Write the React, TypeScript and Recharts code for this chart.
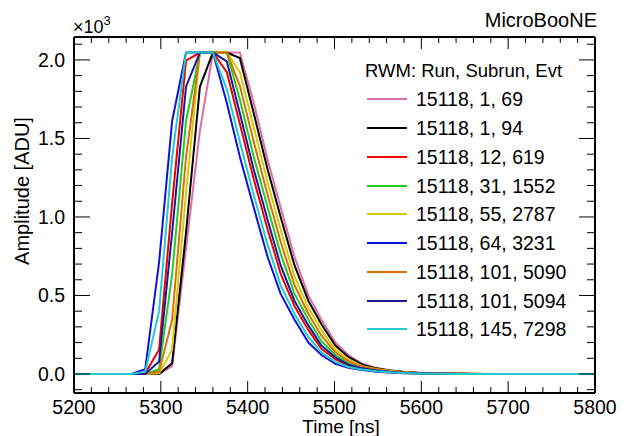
import React from 'react';
import { LineChart, Line, XAxis, YAxis, Legend } from 'recharts';

const FONT = '"Liberation Sans", Arial, Helvetica, sans-serif';

// sample times of the RWM digitizer (ns)
const time = [
  5188, 5204, 5219, 5235, 5251, 5266, 5282, 5298, 5313, 5329, 5345, 5360, 5376, 5391,
  5407, 5423, 5438, 5454, 5470, 5485, 5501, 5516, 5532, 5548, 5563, 5579, 5595, 5610,
  5626, 5641, 5657, 5673, 5688, 5704, 5720, 5735, 5751, 5766, 5782, 5798, 5813,
];

// amplitudes in ADU, one array per event
const ev69 = [0, 0, 0, 0, 0, 0, 0, 0, 50, 800, 1550, 2047, 2047, 2047, 1726, 1364, 1060, 745, 499, 345, 200, 121, 65, 39, 25, 15, 9, 5, 3, 2, 1, 0, 0, 0, 0, 0, 0, 0, 0, 0, 0];
const ev94 = [0, 0, 0, 0, 0, 0, 0, 0, 68, 900, 1830, 2047, 2047, 2012, 1660, 1302, 1000, 691, 465, 317, 181, 109, 59, 36, 23, 14, 8, 5, 3, 2, 1, 0, 0, 0, 0, 0, 0, 0, 0, 0, 0];
const ev619 = [0, 0, 0, 0, 0, 0, 4, 155, 1088, 1995, 2047, 2047, 1922, 1594, 1240, 920, 638, 431, 279, 161, 94, 52, 33, 20, 13, 7, 4, 3, 2, 1, 0, 0, 0, 0, 0, 0, 0, 0, 0, 0, 0];
const ev1552 = [0, 0, 0, 0, 0, 0, 0, 30, 635, 1611, 2047, 2047, 2047, 1748, 1384, 1060, 765, 510, 345, 209, 121, 68, 40, 25, 16, 9, 5, 3, 2, 1, 0, 0, 0, 0, 0, 0, 0, 0, 0, 0, 0];
const ev2787 = [0, 0, 0, 0, 0, 0, 0, 5, 155, 1150, 2047, 2047, 2047, 1922, 1572, 1220, 920, 620, 420, 279, 155, 94, 50, 32, 20, 12, 7, 4, 3, 2, 1, 0, 0, 0, 0, 0, 0, 0, 0, 0, 0];
const ev3231 = [0, 0, 0, 0, 0, 0, 30, 713, 1611, 2047, 2047, 2047, 1726, 1384, 1060, 745, 510, 345, 200, 121, 65, 40, 25, 15, 9, 5, 3, 2, 1, 0, 0, 0, 0, 0, 0, 0, 0, 0, 0, 0, 0];
const ev5090 = [0, 0, 0, 0, 0, 0, 0, 15, 345, 1380, 2047, 2047, 2047, 1835, 1479, 1140, 842, 565, 382, 244, 138, 81, 45, 28, 18, 11, 6, 4, 2, 1, 0, 0, 0, 0, 0, 0, 0, 0, 0, 0, 0];
const ev5094 = [0, 0, 0, 0, 0, 0, 0, 80, 900, 1830, 2047, 2047, 1990, 1660, 1302, 980, 691, 465, 308, 181, 106, 59, 36, 22, 14, 8, 5, 3, 2, 1, 0, 0, 0, 0, 0, 0, 0, 0, 0, 0, 0];
const ev7298 = [0, 0, 0, 0, 0, 0, 15, 400, 1380, 2047, 2047, 2047, 1813, 1479, 1140, 822, 565, 382, 235, 138, 77, 45, 28, 17, 11, 6, 3, 2, 1, 0, 0, 0, 0, 0, 0, 0, 0, 0, 0, 0, 0];

const series = [
  { key: 'ev69', name: '15118, 1, 69', color: '#dc6ea8', values: ev69 },
  { key: 'ev94', name: '15118, 1, 94', color: '#000000', values: ev94 },
  { key: 'ev619', name: '15118, 12, 619', color: '#ee0000', values: ev619 },
  { key: 'ev1552', name: '15118, 31, 1552', color: '#22cc22', values: ev1552 },
  { key: 'ev2787', name: '15118, 55, 2787', color: '#d4cc00', values: ev2787 },
  { key: 'ev3231', name: '15118, 64, 3231', color: '#1111dd', values: ev3231 },
  { key: 'ev5090', name: '15118, 101, 5090', color: '#d8700a', values: ev5090 },
  { key: 'ev5094', name: '15118, 101, 5094', color: '#1a1a99', values: ev5094 },
  { key: 'ev7298', name: '15118, 145, 7298', color: '#22cccc', values: ev7298 },
];

const xTicks = [
  5200, 5220, 5240, 5260, 5280, 5300, 5320, 5340, 5360, 5380, 5400, 5420, 5440, 5460, 5480,
  5500, 5520, 5540, 5560, 5580, 5600, 5620, 5640, 5660, 5680, 5700, 5720, 5740, 5760, 5780, 5800,
];
const yTicks = [
  -100, 0, 100, 200, 300, 400, 500, 600, 700, 800, 900, 1000, 1100, 1200, 1300, 1400, 1500,
  1600, 1700, 1800, 1900, 2000, 2100,
];

const data = time.map((t, i) => {
  const row: any = { t };
  series.forEach(s => { row[s.key] = s.values[i]; });
  return row;
});

const BottomTick = (props: any) => {
  const { x, y, payload } = props;
  const major = payload.value % 100 === 0;
  return (
    <g>
      <line x1={x} y1={y} x2={x} y2={y - (major ? 12 : 6)} stroke="#000" strokeWidth={1} />
      {major && (
        <text x={x} y={y + 20.5} textAnchor="middle" fontSize={19.5} fontFamily={FONT} fill="#000">
          {payload.value}
        </text>
      )}
    </g>
  );
};

const TopTick = (props: any) => {
  const { x, y, payload } = props;
  const major = payload.value % 100 === 0;
  return <line x1={x} y1={y} x2={x} y2={y + (major ? 12 : 6)} stroke="#000" strokeWidth={1} />;
};

const LeftTick = (props: any) => {
  const { x, y, payload } = props;
  const major = payload.value % 500 === 0;
  return (
    <g>
      <line x1={x} y1={y} x2={x + (major ? 16 : 8)} y2={y} stroke="#000" strokeWidth={1} />
      {major && (
        <text x={x - 9} y={y + 7} textAnchor="end" fontSize={19.5} fontFamily={FONT} fill="#000">
          {(payload.value / 1000).toFixed(1)}
        </text>
      )}
    </g>
  );
};

const RightTick = (props: any) => {
  const { x, y, payload } = props;
  const major = payload.value % 500 === 0;
  return <line x1={x} y1={y} x2={x - (major ? 16 : 8)} y2={y} stroke="#000" strokeWidth={1} />;
};

const order = series.map(s => s.name);

const LegendBox = (props: any) => {
  const items = [...(props.payload || [])].sort(
    (a: any, b: any) => order.indexOf(a.value) - order.indexOf(b.value),
  );
  return (
    <div style={{ fontFamily: FONT, fontSize: 19.5, color: '#000', width: 240, textAlign: 'left' }}>
      <div style={{ height: 28, lineHeight: '28px', paddingLeft: 5, fontSize: 18.5, whiteSpace: 'nowrap' }}>
        RWM: Run, Subrun, Evt
      </div>
      {items.map((p: any) => (
        <div key={p.value} style={{ height: 28.75, display: 'flex', alignItems: 'center' }}>
          <svg width={40} height={4} style={{ marginLeft: 7, flex: 'none' }}>
            <line x1={0} y1={2} x2={40} y2={2} stroke={p.color} strokeWidth={2} />
          </svg>
          <span style={{ marginLeft: 9, lineHeight: '28px', whiteSpace: 'nowrap' }}>{p.value}</span>
        </div>
      ))}
    </div>
  );
};

export default function App() {
  return (
    <div style={{ position: 'absolute', left: 0, top: 0, width: 626, height: 436, background: '#fff' }}>
      <LineChart width={626} height={436} data={data} margin={{ top: 0, right: 0, bottom: 0, left: 0 }}>
        <XAxis
          xAxisId="b"
          dataKey="t"
          type="number"
          domain={[5200, 5800]}
          allowDataOverflow
          ticks={xTicks}
          interval={0}
          height={43}
          tickSize={0}
          tickMargin={0}
          tickLine={false}
          axisLine={{ stroke: '#000', strokeWidth: 2 }}
          tick={<BottomTick />}
        />
        <XAxis
          xAxisId="t"
          orientation="top"
          dataKey="t"
          type="number"
          domain={[5200, 5800]}
          allowDataOverflow
          ticks={xTicks}
          interval={0}
          height={37}
          tickSize={0}
          tickMargin={0}
          tickLine={false}
          axisLine={{ stroke: '#000', strokeWidth: 2 }}
          tick={<TopTick />}
        />
        <YAxis
          yAxisId="l"
          type="number"
          domain={[-121, 2146]}
          allowDataOverflow
          ticks={yTicks}
          interval={0}
          width={74}
          tickSize={0}
          tickMargin={0}
          tickLine={false}
          axisLine={{ stroke: '#000', strokeWidth: 2 }}
          tick={<LeftTick />}
        />
        <YAxis
          yAxisId="r"
          orientation="right"
          type="number"
          domain={[-121, 2146]}
          allowDataOverflow
          ticks={yTicks}
          interval={0}
          width={31}
          tickSize={0}
          tickMargin={0}
          tickLine={false}
          axisLine={{ stroke: '#000', strokeWidth: 2 }}
          tick={<RightTick />}
        />
        <Legend
          layout="vertical"
          align="center"
          verticalAlign="middle"
          content={<LegendBox />}
          wrapperStyle={{ left: 360, top: 57, width: 240 }}
        />
        {series.map(s => (
          <Line
            key={s.key}
            xAxisId="b"
            yAxisId="l"
            type="linear"
            dataKey={s.key}
            name={s.name}
            stroke={s.color}
            strokeWidth={2}
            dot={false}
            isAnimationActive={false}
          />
        ))}
      </LineChart>
      <div style={{ position: 'absolute', left: 400, top: 10, width: 197, textAlign: 'right', fontFamily: FONT, fontSize: 20, lineHeight: '20px' }}>
        MicroBooNE
      </div>
      <div style={{ position: 'absolute', left: 73, top: 17, fontFamily: FONT, fontSize: 18, lineHeight: '20px' }}>
        ×10<sup style={{ fontSize: 13, verticalAlign: 'top', position: 'relative', top: -6 }}>3</sup>
      </div>
      <div style={{ position: 'absolute', left: 241, top: 417, width: 200, textAlign: 'center', fontFamily: FONT, fontSize: 19, lineHeight: '19px', whiteSpace: 'nowrap' }}>
        Time [ns]
      </div>
      <div
        style={{
          position: 'absolute', left: 22, top: 191, width: 200, textAlign: 'center', fontFamily: FONT, fontSize: 20,
          lineHeight: '22px', transform: 'translate(-50%, -50%) rotate(-90deg)',
        }}
      >
        Amplitude [ADU]
      </div>
    </div>
  );
}
